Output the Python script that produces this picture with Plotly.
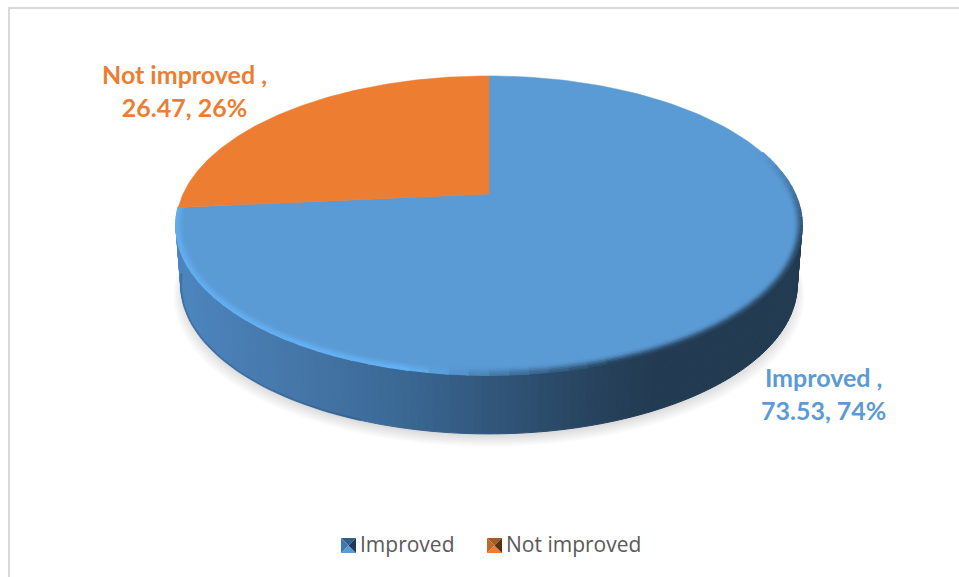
import numpy as np
import plotly.graph_objects as go

# ---- data ----
categories = ["Improved", "Not improved"]
values = [73.53, 26.47]
percent_labels = ["74%", "26%"]
face_colors = ["#5b9bd5", "#ed7d31"]
label_text = ["Improved ,<br>73.53, 74%", "Not improved ,<br>26.47, 26%"]

# ---- pie geometry in pixel space (perspective disc) ----
W, H = 959, 577
CX, CY = 489.0, 194.0
A, B, K = 142.9, 306.0, 0.21
DEPTH, BOTTOM_SCALE = 59.0, 0.985
ELL_CY, ELL_RX, ELL_RY = 225.4, 313.0, 150.0


def proj(theta, inset=0.0):
    u, v = np.sin(theta), np.cos(theta)
    w = 1 + K * v
    x, y = CX + B * u / w, CY - A * v / w
    return CX + (x - CX) * (1 - inset / ELL_RX), ELL_CY + (y - ELL_CY) * (1 - inset / ELL_RY)


def lower(x, y):
    return CX + (x - CX) * BOTTOM_SCALE, y + DEPTH


def hex2rgb(c):
    return np.array([int(c[i:i + 2], 16) for i in (1, 3, 5)], float)


def interp_rgb(stops_x, stops_c, x):
    return np.array([np.interp(x, stops_x, [hex2rgb(c)[i] for c in stops_c]) for i in range(3)])


def css(rgb):
    return "rgb(%d,%d,%d)" % tuple(rgb)


fig = go.Figure()


def poly(xs, ys, fill, line=None, width=0):
    fig.add_trace(go.Scatter(
        x=list(xs), y=list(ys), mode="lines", fill="toself", fillcolor=fill,
        line=dict(color=line or "rgba(0,0,0,0)", width=width),
        hoverinfo="skip", showlegend=False))


# soft shadow
full = np.linspace(0, 2 * np.pi, 181)
tx, ty = proj(full)
bx, by = lower(tx, ty)
for grow, drop in zip(np.linspace(1.024, 0.99, 18), np.linspace(12, 2, 18)):
    sx = CX + (bx - CX) * grow
    sy = by + drop + (by - (ELL_CY + DEPTH)) * (grow - 1) * 0.3
    poly(sx, sy, "rgba(90,90,90,0.0125)")

# side wall with a horizontal gradient
wall_x = [175, 300, 400, 489, 600, 650, 802]
wall_c = ["#4d86bf", "#4576a8", "#3b6995", "#32577c", "#27425c", "#233c53", "#223b51"]
edges = np.radians(np.linspace(95, 265, 141))
for t0, t1 in zip(edges[:-1], edges[1:]):
    x0, y0 = proj(t0)
    x1, y1 = proj(t1)
    x2, y2 = lower(x1, y1)
    x3, y3 = lower(x0, y0)
    col = css(interp_rgb(wall_x, wall_c, (x0 + x1) / 2))
    poly([x0, x1, x2, x3, x0], [y0, y1, y2, y3, y0], col, col, 1)

# bottom lip
lip = np.radians(np.linspace(200, 262, 40))
lx, ly = lower(*proj(lip))
fig.add_trace(go.Scatter(x=lx, y=ly, mode="lines", hoverinfo="skip", showlegend=False,
                         line=dict(color="rgba(25,70,115,0.3)", width=2)))

# top face wedges
cum = np.concatenate([[0], np.cumsum(values)]) / np.sum(values) * 2 * np.pi
for i, name in enumerate(categories):
    th = np.linspace(cum[i], cum[i + 1], 160)
    ax, ay = proj(th)
    poly(np.r_[CX, ax, CX], np.r_[CY, ay, CY], face_colors[i], face_colors[i], 0.5)

# bevel along the rim of the blue wedge
rim_deg = [72, 108, 160, 176, 192, 262, 264.7]
rim_col = ["#5b9bd5", "#2a4a68", "#26425c", "#3f719f", "#66b2f4", "#62aeef", "#62aeef"]
ring_d = [0.0, 1.5, 3.0, 4.5, 6.0, 7.5]
ring_w = [1.0, 0.92, 0.72, 0.48, 0.25, 0.08]
steps = np.arange(72, 264.7, 3.0)
face = hex2rgb(face_colors[0])
for d, w in zip(ring_d, ring_w):
    for deg in steps:
        t = np.radians([deg, min(deg + 3.4, 264.7)])
        x, y = proj(t, d)
        c = interp_rgb(rim_deg, rim_col, deg + 1.5) * w + face * (1 - w)
        fig.add_trace(go.Scatter(x=x, y=y, mode="lines", hoverinfo="skip", showlegend=False,
                                 line=dict(color=css(c), width=2)))

# legend entries (text through real legends, one per entry)
legend_ids = ["legend", "legend2"]
for i, name in enumerate(categories):
    fig.add_trace(go.Scatter(x=[None], y=[None], mode="markers", name=name, legend=legend_ids[i],
                             marker=dict(symbol="square", size=14, color="rgba(0,0,0,0)")))

# bevelled legend swatches
swatch_x = [341, 487]
swatch_shades = [["#2f5f8c", "#5b9bd5", "#1f3a54", "#3f78ad"],
                 ["#a85a25", "#ed7d31", "#5a3014", "#c4682a"]]
SW = 15
for sx0, sh in zip(swatch_x, swatch_shades):
    x0, x1, y0, y1, xm, ym = sx0, sx0 + SW, 538, 538 + SW, sx0 + SW / 2, 538 + SW / 2
    poly([x0, x1, xm, x0], [y0, y0, ym, y0], sh[0])
    poly([x0, x1, xm, x0], [y1, y1, ym, y1], sh[1])
    poly([x1, x1, xm, x1], [y0, y1, ym, y0], sh[2])
    poly([x0, x0, xm, x0], [y0, y1, ym, y0], sh[3])

legend_style = dict(orientation="h", y=1 - 524 / H, xanchor="left", yanchor="top",
                    font=dict(family="Open Sans", size=21, color="#595959"),
                    bgcolor="rgba(0,0,0,0)")

fig.update_layout(
    width=W, height=H, margin=dict(l=0, r=0, t=0, b=0),
    paper_bgcolor="white", plot_bgcolor="white",
    xaxis=dict(range=[0, W], visible=False, fixedrange=True),
    yaxis=dict(range=[H, 0], visible=False, fixedrange=True),
    legend=dict(x=320 / W, **legend_style),
    legend2=dict(x=466 / W, **legend_style),
    shapes=[
        dict(type="line", xref="x", yref="y", x0=8, x1=W, y0=8, y1=8,
             line=dict(color="#d9d9d9", width=2)),
        dict(type="line", xref="x", yref="y", x0=9, x1=9, y0=8, y1=H,
             line=dict(color="#d9d9d9", width=2)),
    ],
    annotations=[
        dict(x=823, y=393, xref="x", yref="y", text=label_text[0], showarrow=False,
             font=dict(family="Lato", size=25, color=face_colors[0], weight="bold")),
        dict(x=184, y=90, xref="x", yref="y", text=label_text[1], showarrow=False,
             font=dict(family="Lato", size=25, color=face_colors[1], weight="bold")),
    ],
)
fig.write_html("out.html", config=dict(displayModeBar=False),
               post_script="document.body.style.margin='0';document.body.style.overflow='hidden';")
